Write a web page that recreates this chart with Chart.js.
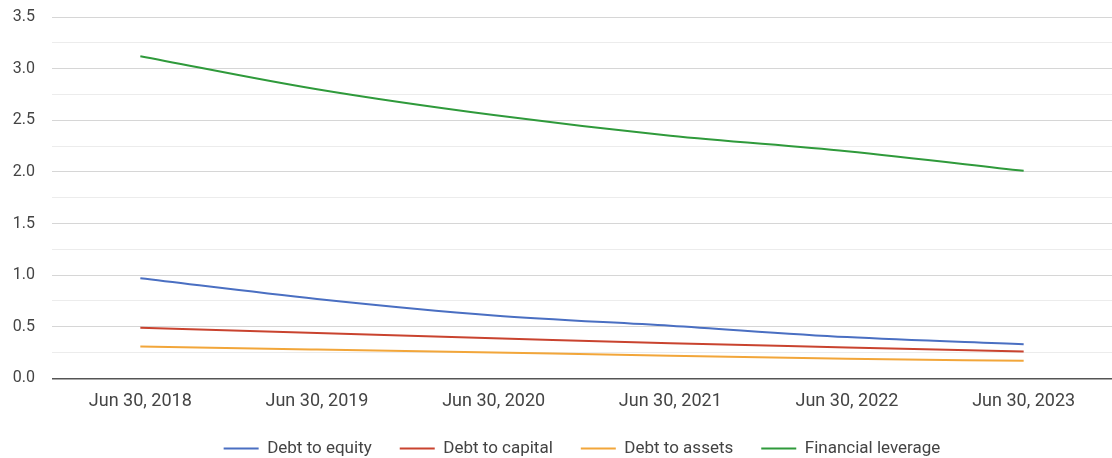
<!DOCTYPE html>
<html>
<head>
<meta charset="utf-8">
<script src="https://cdn.jsdelivr.net/npm/chart.js@4.4.0/dist/chart.umd.min.js"></script>
<style>
  html, body { margin: 0; padding: 0; background: #fff; }
  #wrap { width: 1112px; height: 458px; }
</style>
</head>
<body>
<div id="wrap"><canvas id="leverageChart"></canvas></div>
<script>
// Datos
var years = ['Jun 30, 2018', 'Jun 30, 2019', 'Jun 30, 2020', 'Jun 30, 2021', 'Jun 30, 2022', 'Jun 30, 2023'];
var debtToEquity = [0.97, 0.77, 0.61, 0.51, 0.40, 0.33];
var debtToCapital = [0.49, 0.44, 0.39, 0.34, 0.30, 0.26];
var debtToAssets = [0.31, 0.28, 0.25, 0.22, 0.19, 0.17];
var financialLeverage = [3.12, 2.80, 2.55, 2.35, 2.20, 2.01];
var yMin = 0, yMax = 3.5, yStep = 0.25;

function serie(label, data, color) {
    return {
        label: label,
        data: data,
        borderColor: color,
        backgroundColor: color,
        borderWidth: 2,
        pointRadius: 0,
        pointHoverRadius: 0,
        tension: 0.35,
        cubicInterpolationMode: 'monotone',
        fill: false
    };
}

// Centrar la leyenda sobre el área del gráfico, no sobre todo el lienzo
var legendShift = {
    id: 'legendShift',
    afterLayout: function(chart) {
        var lg = chart.legend;
        if (lg) {
            var dx = (chart.chartArea.left + chart.chartArea.right) / 2 - (lg.left + lg.right) / 2;
            lg.left += dx;
            lg.right += dx;
        }
    }
};

var ctx = document.getElementById('leverageChart').getContext('2d');
new Chart(ctx, {
    type: 'line',
    data: {
        labels: years,
        datasets: [
            serie('Debt to equity', debtToEquity, '#4a6fc2'),
            serie('Debt to capital', debtToCapital, '#c9432f'),
            serie('Debt to assets', debtToAssets, '#f2a63a'),
            serie('Financial leverage', financialLeverage, '#2f9a3b')
        ]
    },
    plugins: [legendShift],
    options: {
        responsive: true,
        maintainAspectRatio: false,
        animation: false,
        layout: { padding: { top: 17, right: 0, left: 0, bottom: -9 } },
        plugins: {
            tooltip: { enabled: false },
            legend: {
                position: 'bottom',
                labels: {
                    usePointStyle: true,
                    pointStyle: 'line',
                    pointStyleWidth: 35,
                    boxHeight: 2,
                    padding: 28,
                    color: '#444',
                    font: { family: 'Roboto', size: 17 }
                }
            }
        },
        scales: {
            x: {
                offset: true,
                grid: { display: false },
                border: { display: false },
                afterFit: function(scale) { scale.height -= 4; },
                ticks: {
                    color: '#444',
                    padding: 4,
                    maxRotation: 0,
                    font: { family: 'Roboto', size: 18 }
                }
            },
            y: {
                min: yMin,
                max: yMax,
                afterFit: function(scale) {
                    scale.width = 52;
                    scale.paddingTop = 0;
                },
                border: { display: false },
                grid: {
                    drawTicks: false,
                    color: function(c) {
                        if (c.tick.value === 0) return '#555';
                        return (Math.round(c.tick.value * 100) % 50 === 0) ? '#d6d6d6' : '#ececec';
                    },
                    lineWidth: function(c) { return c.tick.value === 0 ? 1.5 : 1; }
                },
                ticks: {
                    stepSize: yStep,
                    padding: 17,
                    color: '#444',
                    font: { family: 'Roboto', size: 16 },
                    callback: function(v) {
                        return (Math.round(v * 100) % 50 === 0) ? v.toFixed(1) : '';
                    }
                }
            }
        }
    }
});
</script>
</body>
</html>
